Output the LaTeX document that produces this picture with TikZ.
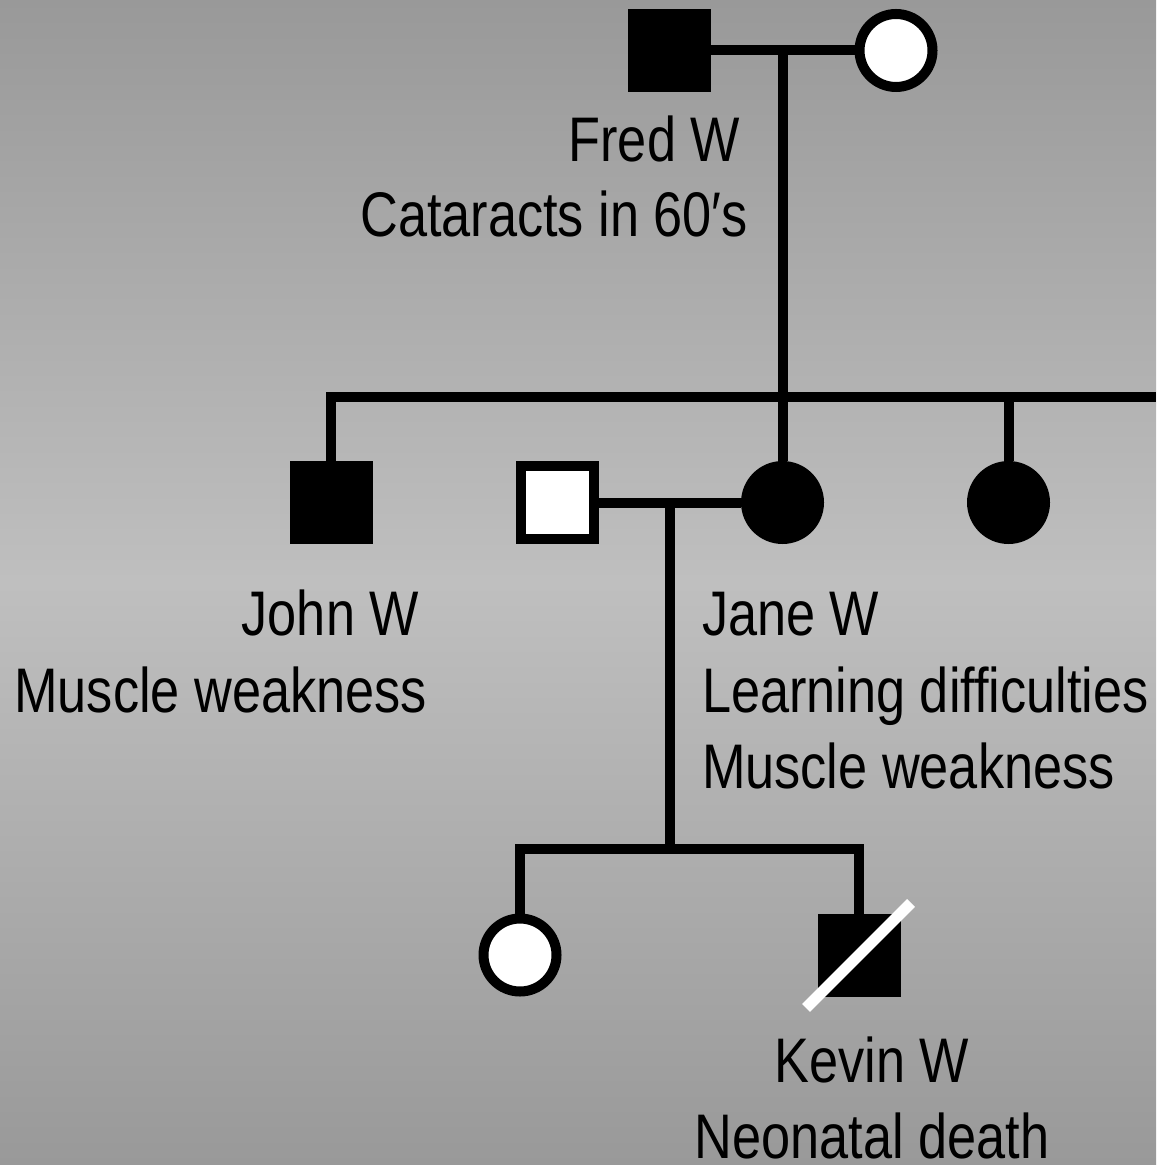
\documentclass[tikz,border=0pt]{standalone}
\usepackage{fontspec}
\setmainfont{Liberation Sans}[FakeStretch=0.83]
\usetikzlibrary{calc}
\definecolor{bgedge}{HTML}{999999}
\definecolor{bgmid}{HTML}{BFBFBF}
\begin{document}
\begin{tikzpicture}[x=0.5pt,y=-0.5pt,
  line width=5pt,
  link/.style={draw=black,line join=miter},
  person/.style={inner sep=0pt,outer sep=0pt},
  affsq/.style={person,rectangle,fill=black,draw=none,minimum size=41.5pt},
  affci/.style={person,circle,fill=black,draw=none,minimum size=41.5pt},
  unsq/.style={person,rectangle,fill=white,draw=black,line width=5pt,minimum size=36.5pt},
  unci/.style={person,circle,fill=white,draw=black,line width=5pt,minimum size=36.5pt},
  lbl/.style={inner sep=0pt,font=\fontsize{31.5pt}{38pt}\selectfont}]

% background with vertical gray gradient
\shade[top color=bgedge,bottom color=bgedge,middle color=bgmid]
  (0,0) rectangle (1156,1165);
\useasboundingbox (0,0) rectangle (1156,1165);

% generation I
\node[affsq] (fred) at (669.5,50.5) {};
\node[unci] (fredwife) at (896,50.5) {};

% generation II
\node[affsq] (john) at (331,502.5) {};
\node[unsq] (husband) at (557,502.5) {};
\node[affci] (jane) at (782.5,502.5) {};
\node[affci] (sister) at (1008.5,502.5) {};

% generation III
\node[unci] (daughter) at (520,955) {};
\node[affsq] (kevin) at (859,955) {};

% helper points for the pedigree lines
\coordinate (fredmate) at (jane |- fred);
\coordinate (sibend) at (1156,397);
\coordinate (janemate) at (670,502.5);
\coordinate (kidline) at (670,849);

% connectors
\draw[link] (fred.east) -- (fredwife.west);
\draw[link] (fredmate) -- (jane.north);
\draw[link] (john.north) |- (sibend);
\draw[link] (sister.north) -- (sister |- sibend);
\draw[link] (husband.east) -- (jane.west);
\draw[link] (janemate) -- (kidline);
\draw[link] (daughter.north) |- (kidline) -| (kevin.north);

% deceased mark
\draw[white,line width=5.5pt] ($(kevin)+(-53,53)$) -- ($(kevin)+(52,-52)$);

% labels
\node[lbl,anchor=base east] (fredname) at (745,162) {Fred W};
\node[lbl,anchor=base east] (frednote) at (753,237) {Cataracts in 60′s};
\node[lbl,anchor=base east] (johnname) at (424,635) {John W};
\node[lbl,anchor=base east] (johnnote) at (432,712) {Muscle weakness};
\node[lbl,anchor=base west] (janename) at (697,635) {Jane W};
\node[lbl,anchor=base west] (janenote1) at (697,712) {Learning difficulties};
\node[lbl,anchor=base west] (janenote2) at (697,788) {Muscle weakness};
\node[lbl,anchor=base] (kevinname) at (872,1082) {Kevin W};
\node[lbl,anchor=base] (kevinnote) at (872,1158) {Neonatal death};
\end{tikzpicture}
\end{document}
